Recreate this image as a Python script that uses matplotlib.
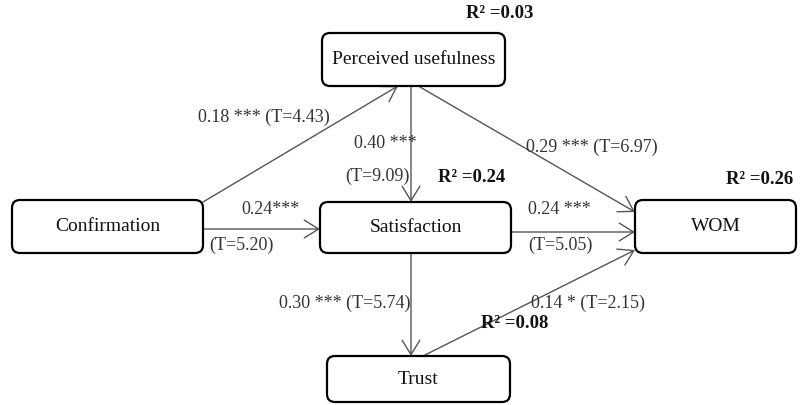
import matplotlib
matplotlib.use("Agg")
import matplotlib.pyplot as plt
from matplotlib.patches import FancyBboxPatch, FancyArrowPatch

# Nodes: name, (x0, y0, x1, y1) in pixel space
node_names = ["Perceived usefulness", "Confirmation", "Satisfaction", "WOM", "Trust"]
node_boxes = [(322, 33, 505, 86), (12, 200, 203, 253), (320, 202, 511, 253),
              (635, 200, 796, 253), (327, 356, 510, 402)]

# Edges: start point, end point
edge_starts = [(203, 202), (411, 86), (420, 87), (203, 229), (511, 232), (411, 253), (423, 356)]
edge_ends = [(398, 86), (411, 202), (635, 212), (320, 229), (635, 232), (411, 356), (635, 250)]

# Path labels
path_labels = ["0.18 *** (T=4.43)", "0.40 ***", "(T=9.09)", "0.29 *** (T=6.97)",
               "0.24***", "(T=5.20)", "0.24 ***", "(T=5.05)",
               "0.30 *** (T=5.74)", "0.14 * (T=2.15)"]
path_label_pos = [(198, 117), (354, 143), (345, 176), (526, 147),
                  (241, 209), (209, 245), (528, 209), (528, 245),
                  (279, 303), (531, 303)]

# R-squared labels
r2_values = ["0.03", "0.24", "0.26", "0.08"]
r2_pos = [(466, 14), (438, 178), (726, 179), (481, 324)]

W, H = 803, 405
fig = plt.figure(figsize=(W / 100, H / 100), dpi=100)
ax = fig.add_axes([0, 0, 1, 1])
ax.set_xlim(0, W)
ax.set_ylim(H, 0)
ax.axis("off")

font = "Liberation Serif"

for name, (x0, y0, x1, y1) in zip(node_names, node_boxes):
    p = FancyBboxPatch((x0 + 8, y0 + 8), (x1 - x0) - 16, (y1 - y0) - 16,
                       boxstyle="round,pad=8", fc="white", ec="black", lw=1.6, zorder=3)
    ax.add_patch(p)
    ax.text((x0 + x1) / 2, (y0 + y1) / 2, name, ha="center", va="center",
            fontsize=14, family=font, color="#111111", zorder=4)

for s, e in zip(edge_starts, edge_ends):
    a = FancyArrowPatch(s, e, arrowstyle="->,head_length=6.5,head_width=4",
                        color="#555555", lw=1.0, shrinkA=0, shrinkB=0,
                        mutation_scale=1.6, zorder=2)
    ax.add_patch(a)

for t, (x, y) in zip(path_labels, path_label_pos):
    ax.text(x, y, t, ha="left", va="center", fontsize=13, family=font, color="#333333", zorder=5)

for v, (x, y) in zip(r2_values, r2_pos):
    ax.text(x, y, "R\u00b2 =" + v, ha="left", va="center", fontsize=13.5,
            family=font, fontweight="bold", color="#111111", zorder=5)

fig.savefig("out.png", dpi=100)
